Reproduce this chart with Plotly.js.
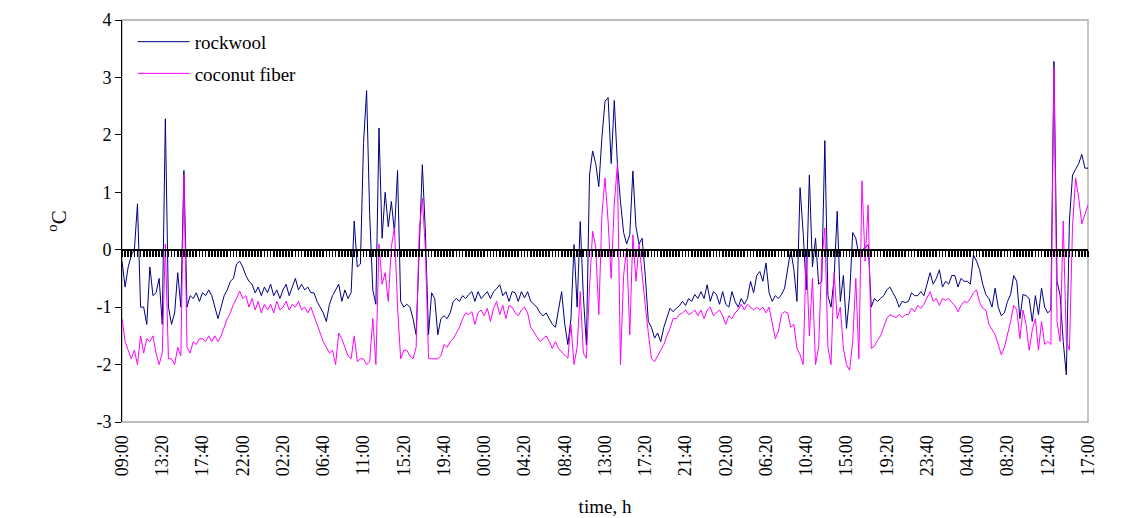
<!DOCTYPE html>
<html>
<head>
<meta charset="utf-8">
<script src="https://cdn.plot.ly/plotly-3.0.1.min.js"></script>
<style>html,body{margin:0;padding:0;background:#fff;}#chart{width:1138px;height:518px;}</style>
</head>
<body>
<div id="chart"></div>
<script>
// Tick labels every 13 samples (20-min samples, label every 4 h 20 min)
const tickLabels = ['09:00','13:20','17:40','22:00','02:20','06:40','11:00','15:20','19:40','00:00','04:20','08:40','13:00','17:20','21:40','02:00','06:20','10:40','15:00','19:20','23:40','04:00','08:20','12:40','17:00'];
const labelStep = 13;
const yTickVals = [-3, -2, -1, 0, 1, 2, 3, 4];
const yTickText = ['-3', '-2', '-1', '0', '1', '2', '3', '4'];

const rockwool = [
-0.2,-0.65,-0.3,-0.1,0.0,0.8,-1.0,-1.0,-1.3,-0.3,
-0.8,-0.75,-0.5,-1.3,2.28,-1.0,-1.3,-1.1,-0.4,-1.0,
1.38,-1.0,-0.8,-0.85,-0.75,-0.9,-0.75,-0.8,-0.7,-0.8,
-1.0,-1.2,-1.0,-0.8,-0.7,-0.55,-0.5,-0.25,-0.2,-0.3,
-0.45,-0.55,-0.6,-0.75,-0.65,-0.8,-0.65,-0.75,-0.6,-0.8,
-0.7,-0.85,-0.7,-0.6,-0.8,-0.65,-0.5,-0.7,-0.6,-0.7,
-0.65,-0.75,-0.75,-0.9,-1.0,-1.1,-1.25,-0.95,-0.8,-0.7,
-0.6,-0.9,-0.7,-0.85,-0.75,0.5,-0.3,-0.25,1.85,2.77,
0.6,-0.7,-0.95,2.12,0.2,1.0,0.4,0.84,0.3,1.38,
-0.9,-1.0,-0.95,-1.0,-1.2,-1.48,0.1,1.48,0.3,-1.48,
-0.75,-0.85,-1.48,-1.2,-1.15,-1.2,-1.1,-0.9,-0.85,-0.9,
-0.8,-0.85,-0.78,-0.73,-0.9,-0.73,-0.85,-0.78,-0.73,-0.85,
-0.73,-0.68,-0.61,-0.8,-0.73,-0.9,-0.73,-0.75,-0.9,-0.73,
-0.84,-0.73,-0.9,-0.95,-1.0,-1.1,-1.15,-1.1,-1.2,-1.3,
-1.35,-1.0,-0.73,-1.3,-1.65,-1.2,0.09,-1.0,0.49,-0.8,
-1.66,1.3,1.72,1.5,1.1,1.95,2.58,2.65,1.5,2.6,
1.5,0.84,0.3,0.1,0.26,1.37,0.4,0.1,0.2,-0.45,
-1.25,-1.35,-1.54,-1.45,-1.6,-1.35,-1.2,-1.02,-1.08,-1.02,
-0.98,-0.9,-0.97,-0.85,-0.9,-0.78,-0.85,-0.73,-0.85,-0.61,
-0.9,-0.73,-0.78,-0.95,-0.73,-0.95,-1.0,-0.73,-0.9,-1.0,
-0.85,-0.95,-0.85,-0.55,-0.75,-0.45,-0.38,-0.55,-0.23,-0.75,
-0.9,-0.8,-0.85,-0.78,-0.67,-0.35,0.0,-0.35,-0.9,1.08,
0.3,-0.7,1.3,-0.3,0.2,-0.6,-0.55,1.9,-0.8,-1.0,
-0.5,0.67,-0.9,-0.45,-1.37,-0.8,0.3,0.2,-0.1,0.0,
0.03,0.09,-1.0,-0.85,-0.9,-0.85,-0.8,-0.7,-0.65,-0.75,
-0.85,-1.0,-0.9,-0.92,-0.9,-0.75,-0.8,-0.8,-0.73,-0.8,
-0.6,-0.4,-0.6,-0.5,-0.35,-0.65,-0.55,-0.6,-0.45,-0.45,
-0.65,-0.5,-0.55,-0.55,-0.6,-0.09,-0.2,-0.35,-0.6,-0.78,
-0.85,-1.0,-0.67,-1.0,-1.15,-1.1,-0.9,-0.78,-0.45,-0.55,
-1.2,-0.78,-0.8,-0.85,-1.25,-0.8,-1.13,-0.67,-1.0,-1.1,
-1.05,3.28,-0.55,-0.8,-1.6,-2.18,0.5,1.3,1.4,1.5,
1.66,1.42,1.42
];

const coconut = [
-1.2,-1.6,-1.75,-1.9,-1.75,-2.0,-1.5,-1.8,-1.55,-1.6,
-1.5,-1.8,-2.0,-1.8,0.1,-1.9,-1.9,-2.0,-1.7,-1.85,
1.3,-1.7,-1.8,-1.6,-1.65,-1.55,-1.55,-1.6,-1.5,-1.6,
-1.5,-1.6,-1.5,-1.35,-1.2,-1.1,-0.95,-0.85,-0.72,-0.85,
-0.8,-1.0,-0.85,-1.05,-0.9,-1.1,-0.95,-1.05,-0.95,-1.1,
-0.9,-1.05,-1.0,-0.9,-1.05,-0.95,-1.0,-0.9,-1.05,-1.0,
-1.1,-1.0,-1.15,-1.3,-1.45,-1.6,-1.7,-1.8,-1.75,-2.0,
-1.45,-1.55,-1.7,-1.85,-1.9,-1.5,-1.95,-1.9,-1.9,-2.0,
-1.95,-1.2,-2.0,0.1,-0.6,-0.4,-0.9,0.05,0.38,-1.0,
-1.9,-1.75,-1.75,-1.85,-1.9,-1.7,0.3,0.9,0.0,-1.89,
-1.9,-1.9,-1.9,-1.85,-1.65,-1.7,-1.6,-1.55,-1.45,-1.35,
-1.2,-1.1,-1.13,-1.08,-1.3,-1.1,-1.05,-1.15,-1.02,-1.25,
-1.02,-0.9,-1.13,-0.97,-1.2,-0.97,-1.0,-1.1,-1.15,-1.05,
-1.0,-1.1,-1.35,-1.43,-1.5,-1.6,-1.55,-1.5,-1.6,-1.72,
-1.6,-1.72,-1.78,-1.83,-1.89,-1.3,-2.0,-1.7,-0.73,-1.8,
-1.89,-0.65,0.32,0.05,-1.13,0.6,1.25,0.5,-0.5,0.8,
1.48,-2.0,-0.45,0.03,-1.48,0.26,-0.55,0.1,-0.5,-0.97,
-1.45,-1.89,-1.95,-1.85,-1.75,-1.65,-1.5,-1.37,-1.2,-1.2,
-1.13,-1.1,-1.05,-1.13,-1.1,-1.05,-1.15,-1.05,-1.2,-1.05,
-1.0,-1.15,-1.1,-1.05,-1.15,-1.3,-1.15,-1.2,-1.1,-1.05,
-0.95,-1.05,-0.95,-1.0,-1.05,-1.0,-1.05,-1.0,-1.1,-1.0,
-1.3,-1.55,-1.42,-1.13,-1.08,-1.1,-1.35,-1.3,-1.72,-1.83,
-2.0,-0.03,-1.5,-0.5,-2.0,-1.7,-0.2,0.38,-1.7,-2.0,
-0.4,-1.2,-1.0,-1.72,-2.0,-2.1,-1.6,-0.5,-1.9,1.2,
-0.2,0.78,-1.72,-1.68,-1.58,-1.5,-1.35,-1.2,-1.13,-1.15,
-1.18,-1.13,-1.18,-1.13,-1.13,-1.02,-1.08,-0.97,-1.02,-0.95,
-0.85,-0.73,-0.9,-0.85,-0.97,-0.85,-0.88,-0.85,-0.92,-0.97,
-1.08,-0.97,-0.9,-0.92,-0.85,-0.75,-0.7,-0.92,-1.02,-1.05,
-1.3,-1.4,-1.48,-1.65,-1.83,-1.7,-1.48,-1.25,-0.97,-1.05,
-1.55,-1.05,-1.3,-1.75,-1.4,-1.2,-1.75,-1.25,-1.65,-1.6,
-1.65,3.17,-1.25,-1.6,0.5,-1.6,-1.75,0.4,1.25,0.9,
0.45,0.6,0.78
];

const idx = rockwool.map((_, i) => i);
const lastIdx = idx[idx.length - 1];
const tickVals = tickLabels.map((_, k) => k * labelStep);

const serif = '"Liberation Serif", "Times New Roman", Times, serif';

const traces = [
  {x: idx, y: rockwool, type: 'scatter', mode: 'lines', name: 'rockwool',
   legendgroup: 'a', line: {color: '#000080', width: 1}},
  {x: idx, y: coconut, type: 'scatter', mode: 'lines', name: 'coconut fiber',
   legendgroup: 'b', line: {color: '#ff00ff', width: 1}},
  {x: [0, lastIdx], y: [null, null], xaxis: 'x2', yaxis: 'y', type: 'scatter', mode: 'lines',
   showlegend: false, hoverinfo: 'skip'}
];

const layout = {
  width: 1138, height: 518,
  margin: {l: 122, r: 50, t: 20, b: 96},
  paper_bgcolor: '#ffffff', plot_bgcolor: '#ffffff',
  font: {family: serif, size: 16, color: '#000'},
  showlegend: true,
  legend: {x: 0.011, y: 0.993, xanchor: 'left', yanchor: 'top',
           font: {family: serif, size: 19, color: '#000'},
           itemwidth: 52,
           bgcolor: 'rgba(0,0,0,0)', tracegroupgap: 4},
  xaxis: {range: [0, lastIdx], tickvals: tickVals, ticktext: tickLabels, tickangle: -90,
          showgrid: false, zeroline: false, showline: false,
          ticks: 'outside', ticklen: 5, tickcolor: 'rgba(0,0,0,0)',
          tickfont: {family: serif, size: 18, color: '#000'},
          title: {text: 'time, h', font: {family: serif, size: 19, color: '#000'}, standoff: 24}},
  xaxis2: {overlaying: 'x', anchor: 'free', position: 3/7, side: 'bottom',
           range: [0, lastIdx], showgrid: false, zeroline: false, showticklabels: false,
           showline: true, linecolor: '#000', linewidth: 2.5,
           ticks: 'outside', ticklen: 6, tickwidth: 1.7, tickcolor: '#000', tick0: 0, dtick: 1},
  yaxis: {range: [-3, 4], tickvals: yTickVals, ticktext: yTickText, showgrid: false, zeroline: false,
          showline: true, linecolor: '#000', linewidth: 1,
          ticks: 'outside', ticklen: 6, tickcolor: '#000',
          tickfont: {family: serif, size: 18, color: '#000'},
          title: {text: '<sup>o</sup>C', font: {family: serif, size: 21, color: '#000'}, standoff: 24}},
  shapes: [{type: 'rect', xref: 'paper', yref: 'paper', x0: 0, x1: 1, y0: 0, y1: 1,
            line: {color: '#a6a6a6', width: 1.3}, layer: 'below'}]
};

Plotly.newPlot('chart', traces, layout, {displayModeBar: false, staticPlot: true});
</script>
</body>
</html>
